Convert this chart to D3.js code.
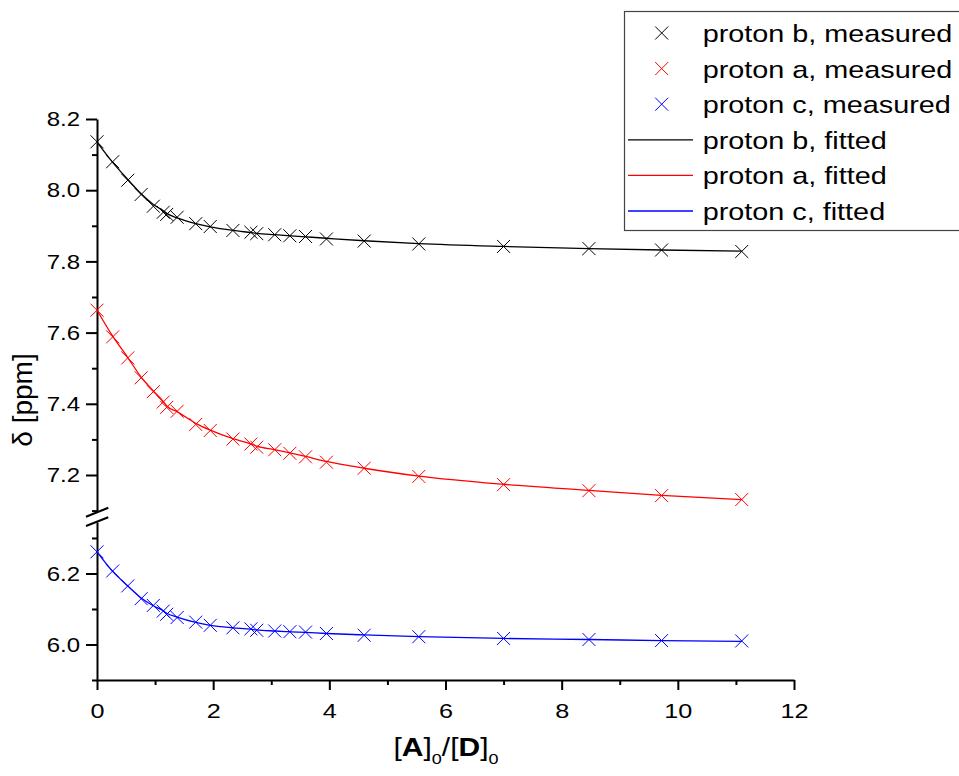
<!DOCTYPE html>
<html>
<head>
<meta charset="utf-8">
<script src="https://cdn.jsdelivr.net/npm/d3@7"></script>
<style>
    body { margin: 0; background: #fff; }
    svg { display: block; font-family: 'Liberation Sans', Arial, sans-serif; }
    .axis path, .axis line { stroke: #000; stroke-width: 2; }
    .axis text { fill: #000; }
</style>
</head>
<body>
<div id="chart"></div>
<script>
// [A]0/[D]0 ratios, shared by all three protons
const ratios = [0, 0.27, 0.53, 0.76, 0.97, 1.14, 1.2, 1.38, 1.7, 1.95, 2.34, 2.65, 2.75,
    3.06, 3.32, 3.59, 3.95, 4.6, 5.54, 7.0, 8.47, 9.72, 11.1];

const protonBMeasured = [8.136, 8.080, 8.028, 7.988, 7.955, 7.938, 7.932, 7.924, 7.906, 7.898, 7.887, 7.882, 7.878,
    7.875, 7.872, 7.870, 7.863, 7.857, 7.849, 7.842, 7.836, 7.832, 7.828];
const protonAMeasured = [7.663, 7.588, 7.529, 7.473, 7.434, 7.405, 7.390, 7.379, 7.342, 7.325, 7.301, 7.287, 7.278,
    7.271, 7.261, 7.251, 7.236, 7.219, 7.196, 7.173, 7.156, 7.142, 7.131];
const protonCMeasured = [6.261, 6.207, 6.165, 6.129, 6.110, 6.094, 6.085, 6.076, 6.063, 6.054, 6.047, 6.044, 6.040,
    6.038, 6.036, 6.035, 6.031, 6.026, 6.022, 6.017, 6.014, 6.011, 6.010];

const protonBFitted = [8.135, 8.078, 8.030, 7.990, 7.960, 7.942, 7.935, 7.922, 7.906, 7.897, 7.887, 7.881, 7.879,
    7.875, 7.872, 7.869, 7.865, 7.858, 7.850, 7.842, 7.836, 7.832, 7.829];
const protonAFitted = [7.663, 7.590, 7.530, 7.475, 7.436, 7.407, 7.394, 7.378, 7.345, 7.326, 7.302, 7.287, 7.281,
    7.271, 7.262, 7.252, 7.238, 7.219, 7.197, 7.174, 7.157, 7.143, 7.131];
const protonCFitted = [6.261, 6.206, 6.165, 6.131, 6.109, 6.095, 6.088, 6.077, 6.062, 6.054, 6.047, 6.043, 6.041,
    6.038, 6.036, 6.034, 6.031, 6.027, 6.022, 6.017, 6.014, 6.011, 6.009];

const xTicks = [0, 2, 4, 6, 8, 10, 12];
const xMinorTicks = [1, 3, 5, 7, 9, 11];
const yTicksUpper = [7.2, 7.4, 7.6, 7.8, 8.0, 8.2];
const yMinorUpper = [7.1, 7.3, 7.5, 7.7, 7.9, 8.1];
const yTicksLower = [6.0, 6.2];
const yMinorLower = [5.9, 6.1, 6.3];

const legendNames = ['proton b, measured', 'proton a, measured', 'proton c, measured',
    'proton b, fitted', 'proton a, fitted', 'proton c, fitted'];

const width = 959;
const height = 776;
const stretch = 1.2; // text in the original is widened horizontally

const svg = d3.select('#chart').append('svg')
    .attr('width', width)
    .attr('height', height);

const x = d3.scaleLinear().domain([0, 12]).range([97, 794]);
const yUpper = d3.scaleLinear().domain([7.1, 8.2]).range([510.6, 119]);
const yLower = d3.scaleLinear().domain([5.9, 6.345]).range([680, 522]);

// x axis
const xAxisG = svg.append('g')
    .attr('class', 'axis')
    .attr('transform', 'translate(0,680)')
    .call(d3.axisBottom(x).tickValues(xTicks).tickSize(10).tickSizeOuter(0).tickFormat(d3.format('d')));
xAxisG.selectAll('text')
    .attr('y', 23)
    .attr('dy', '0.71em')
    .attr('transform', 'scale(' + stretch + ',1)')
    .style('font-size', '21px');
svg.append('g')
    .attr('class', 'axis')
    .attr('transform', 'translate(0,680)')
    .call(d3.axisBottom(x).tickValues(xMinorTicks).tickSize(5).tickFormat(''))
    .select('.domain').remove();

// y axis, two segments with a break
const styleYLabels = (g) => {
    g.selectAll('text')
        .attr('x', -17 / stretch)
        .attr('dy', '0.33em')
        .attr('transform', 'scale(' + stretch + ',1)')
        .style('font-size', '20px');
};

[[yUpper, yTicksUpper, yMinorUpper], [yLower, yTicksLower, yMinorLower]].forEach(([scale, major, minor]) => {
    svg.append('g')
        .attr('class', 'axis')
        .attr('transform', 'translate(97,0)')
        .call(d3.axisLeft(scale).tickValues(major).tickSize(11).tickSizeOuter(0).tickFormat(d3.format('.1f')))
        .call(styleYLabels);
    svg.append('g')
        .attr('class', 'axis')
        .attr('transform', 'translate(97,0)')
        .call(d3.axisLeft(scale).tickValues(minor).tickSize(5).tickFormat(''))
        .select('.domain').remove();
});

// break marks
[[512.3, 507.7], [521.7, 517.3]].forEach(([yAxisPt, yRight]) => {
    const slope = (yRight - yAxisPt) / (108.3 - 97);
    svg.append('line')
        .attr('x1', 86).attr('y1', yAxisPt - 11 * slope)
        .attr('x2', 108.3).attr('y2', yRight)
        .attr('stroke', '#000')
        .attr('stroke-width', 2);
});

// axis titles
svg.append('text')
    .attr('transform', 'translate(32,400) rotate(-90)')
    .attr('text-anchor', 'middle')
    .style('font-size', '28px')
    .text('δ [ppm]');

const xTitle = svg.append('text')
    .attr('transform', 'translate(446,756) scale(' + stretch + ',1)')
    .attr('text-anchor', 'middle')
    .style('font-size', '25px');
xTitle.append('tspan').text('[');
xTitle.append('tspan').style('font-weight', 'bold').text('A');
xTitle.append('tspan').text(']');
xTitle.append('tspan').attr('dy', 8).style('font-size', '15px').text('0');
xTitle.append('tspan').attr('dy', -8).text('/[');
xTitle.append('tspan').style('font-weight', 'bold').text('D');
xTitle.append('tspan').text(']');
xTitle.append('tspan').attr('dy', 8).style('font-size', '15px').text('0');

// series
const series = [
    {measured: protonBMeasured, fitted: protonBFitted, scale: yUpper, color: '#000000'},
    {measured: protonAMeasured, fitted: protonAFitted, scale: yUpper, color: '#ff0000'},
    {measured: protonCMeasured, fitted: protonCFitted, scale: yLower, color: '#0000ff'},
];

const cross = (r) => 'M' + -r + ',' + -r + 'L' + r + ',' + r + 'M' + -r + ',' + r + 'L' + r + ',' + -r;

series.forEach((s) => {
    const line = d3.line()
        .curve(d3.curveMonotoneX)
        .x((d, i) => x(ratios[i]))
        .y((d) => s.scale(d));

    svg.append('path')
        .attr('d', line(s.fitted))
        .attr('fill', 'none')
        .attr('stroke', s.color)
        .attr('stroke-width', 1.3);

    svg.selectAll(null)
        .data(s.measured)
        .enter()
    .append('path')
        .attr('transform', (d, i) => 'translate(' + x(ratios[i]) + ',' + s.scale(d) + ')')
        .attr('d', cross(6.5))
        .attr('fill', 'none')
        .attr('stroke', s.color)
        .attr('stroke-width', 1);
});

// legend
const legend = svg.append('g');
legend.append('rect')
    .attr('x', 624.5)
    .attr('y', 11.5)
    .attr('width', 400)
    .attr('height', 219)
    .attr('fill', '#fff')
    .attr('stroke', '#444')
    .attr('stroke-width', 1.2);

const legendColors = ['#000000', '#ff0000', '#0000ff', '#000000', '#ff0000', '#0000ff'];
legendNames.forEach((name, i) => {
    const cy = 33 + i * 35.6;
    if (i < 3) {
        legend.append('path')
            .attr('transform', 'translate(661.7,' + cy + ')')
            .attr('d', cross(6.5))
            .attr('fill', 'none')
            .attr('stroke', legendColors[i])
            .attr('stroke-width', 1);
    } else {
        legend.append('line')
            .attr('x1', 628).attr('x2', 693)
            .attr('y1', cy).attr('y2', cy)
            .attr('stroke', legendColors[i])
            .attr('stroke-width', 1.3);
    }
    legend.append('text')
        .attr('transform', 'translate(702.7,' + (cy + 9) + ') scale(' + stretch + ',1)')
        .style('font-size', '24px')
        .text(name);
});
</script>
</body>
</html>
